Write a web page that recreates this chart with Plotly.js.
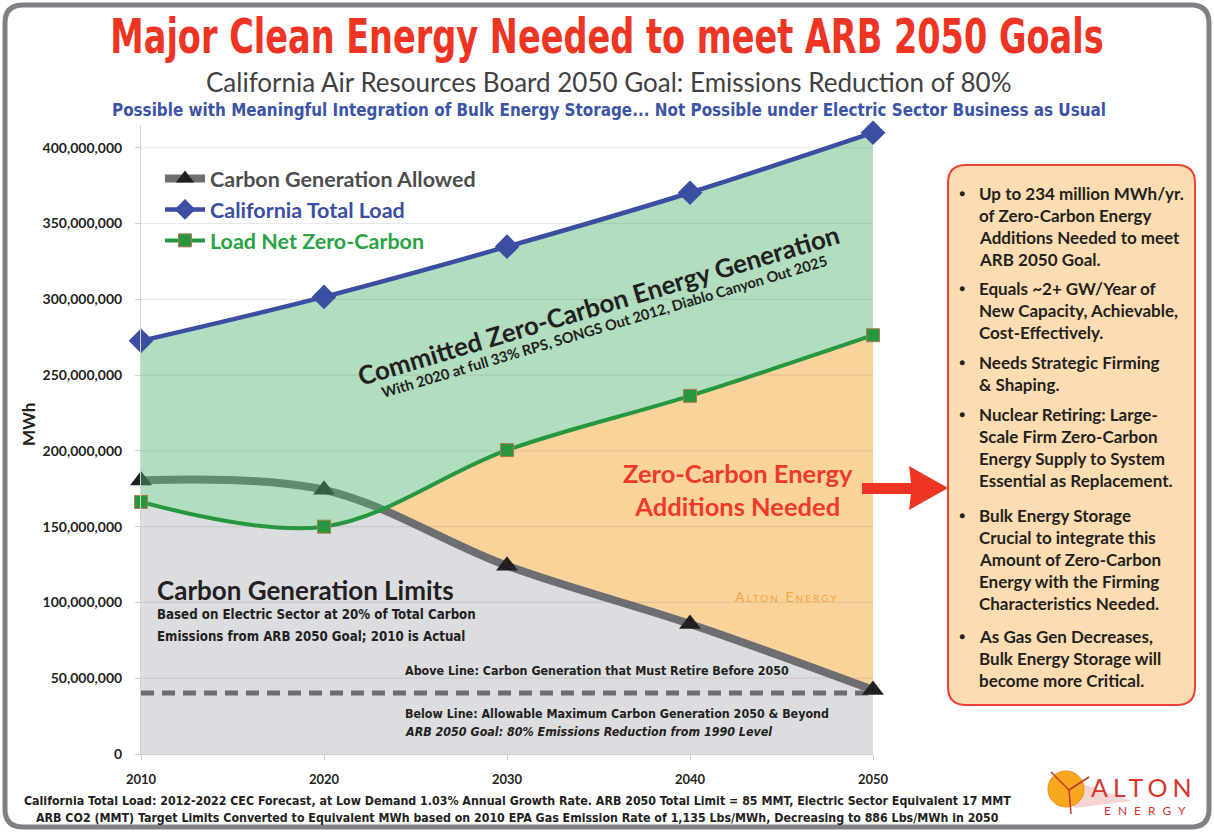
<!DOCTYPE html>
<html><head><meta charset="utf-8">
<script src="https://cdn.plot.ly/plotly-3.0.1.min.js"></script>
<style>
html,body{margin:0;padding:0;background:#fff;} #chart{width:1214px;height:832px;}
.gtitle{transform-box:fill-box;transform-origin:center;transform:scaleY(1.28);}
</style>
</head><body><div id="chart"></div>
<script>
// ---------- DATA ----------
const years = [2010, 2020, 2030, 2040, 2050];
const totalLoad = [272.6e6, 301.6e6, 334.7e6, 370.3e6, 409.9e6];
const netZeroCarbon = [166.3e6, 150.0e6, 200.5e6, 236.3e6, 276.3e6];
const carbonAllowed = [180.5e6, 174.3e6, 124.2e6, 85.8e6, 42.3e6];
const allowableYears = [2010, 2050];
const allowableMax = [40.3e6, 40.3e6];
const yTickVals = [0, 50e6, 100e6, 150e6, 200e6, 250e6, 300e6, 350e6, 400e6];
const yTickText = ['0', '50,000,000', '100,000,000', '150,000,000', '200,000,000', '250,000,000', '300,000,000', '350,000,000', '400,000,000'];
const xTickText = ['2010', '2020', '2030', '2040', '2050'];
const seriesNames = ['Carbon Generation Allowed', 'California Total Load', 'Load Net Zero-Carbon'];
const boxBullets = [
  ['Up to 234 million MWh/yr.', 'of Zero-Carbon Energy', 'Additions Needed to meet', 'ARB 2050 Goal.'],
  ['Equals ~2+ GW/Year of', 'New Capacity, Achievable,', 'Cost-Effectively.'],
  ['Needs Strategic Firming', '&amp; Shaping.'],
  ['Nuclear Retiring: Large-', 'Scale Firm Zero-Carbon', 'Energy Supply to System', 'Essential as Replacement.'],
  ['Bulk Energy Storage', 'Crucial to integrate this', 'Amount of Zero-Carbon', 'Energy with the Firming', 'Characteristics Needed.'],
  ['As Gas Gen Decreases,', 'Bulk Energy Storage will', 'become more Critical.']
];
const footerLines = [
  'California Total Load: 2012-2022 CEC Forecast, at Low Demand 1.03% Annual Growth Rate. ARB 2050 Total Limit = 85 MMT, Electric Sector Equivalent 17 MMT',
  'ARB CO2 (MMT) Target Limits Converted to Equivalent MWh based on 2010 EPA Gas Emission Rate of 1,135 Lbs/MWh, Decreasing to 886 Lbs/MWh in 2050'
];

// ---------- LAYOUT HELPERS ----------
const L = 141, R = 873, T = 125, B = 754;
const px = x => (x - L) / (R - L);
const py = y => (B - y) / (B - T);
const CAL = 'Lato, "Open Sans", sans-serif';
const NAR = '"Liberation Sans Narrow", "DejaVu Sans Condensed", sans-serif';
const DARK = '#231f20';
const C_GRAY_LINE = '#6d6e71', C_BLUE = '#3b4ea2', C_GREEN = '#27973f';

function rr(x0, y0, x1, y1, r) {
  const P = (x, y) => px(x) + ',' + py(y);
  return 'M' + P(x0 + r, y0) + ' L' + P(x1 - r, y0) + ' Q' + P(x1, y0) + ' ' + P(x1, y0 + r) +
    ' L' + P(x1, y1 - r) + ' Q' + P(x1, y1) + ' ' + P(x1 - r, y1) +
    ' L' + P(x0 + r, y1) + ' Q' + P(x0, y1) + ' ' + P(x0, y1 - r) +
    ' L' + P(x0, y0 + r) + ' Q' + P(x0, y0) + ' ' + P(x0 + r, y0) + ' Z';
}
function poly(pts) {
  return 'M' + pts.map(p => px(p[0]) + ',' + py(p[1])).join(' L') + ' Z';
}

const sp = {shape: 'spline', smoothing: 1};
const inv = () => Object.assign({width: 0, color: 'rgba(0,0,0,0)'}, sp);
const traces = [
  {x: years, y: netZeroCarbon, mode: 'lines', line: inv(), fill: 'tozeroy', fillcolor: '#dcdde0', showlegend: false, hoverinfo: 'skip'},
  {x: years, y: carbonAllowed, mode: 'lines', line: inv(), fill: 'tonexty', fillcolor: '#fad39b', showlegend: false, hoverinfo: 'skip'},
  {x: years, y: netZeroCarbon, mode: 'lines', line: inv(), showlegend: false, hoverinfo: 'skip'},
  {x: years, y: totalLoad, mode: 'lines', line: inv(), fill: 'tonexty', fillcolor: '#ffffff', showlegend: false, hoverinfo: 'skip'},
  {x: allowableYears, y: allowableMax, mode: 'lines', line: {color: C_GRAY_LINE, width: 5, dash: '13px,8px'}, showlegend: false, hoverinfo: 'skip'},
  {x: years, y: carbonAllowed, name: '<span style="color:#4d4d4f">' + seriesNames[0] + '</span>', legendrank: 1,
   mode: 'lines+markers', line: Object.assign({width: 8, color: C_GRAY_LINE}, sp),
   marker: {symbol: 'triangle-up', size: 19, color: DARK}, cliponaxis: false, hoverinfo: 'skip'},
  {x: years, y: netZeroCarbon, mode: 'lines', line: inv(), showlegend: false, hoverinfo: 'skip'},
  {x: years, y: totalLoad, mode: 'lines', line: inv(), fill: 'tonexty', fillcolor: 'rgba(80,178,108,0.44)', showlegend: false, hoverinfo: 'skip'},
  {x: years, y: netZeroCarbon, name: '<span style="color:#2aa344">' + seriesNames[2] + '</span>', legendrank: 3,
   mode: 'lines+markers', line: Object.assign({width: 4, color: C_GREEN}, sp),
   marker: {symbol: 'square', size: 13, color: '#27973f', line: {color: '#b07a4a', width: 1}}, cliponaxis: false, hoverinfo: 'skip'},
  {x: years, y: totalLoad, name: '<span style="color:#3b4ea2">' + seriesNames[1] + '</span>', legendrank: 2,
   mode: 'lines+markers', line: Object.assign({width: 4.5, color: C_BLUE}, sp),
   marker: {symbol: 'diamond', size: 19, color: C_BLUE}, cliponaxis: false, hoverinfo: 'skip'}
];

const shapes = [];
shapes.push({type: 'path', xref: 'paper', yref: 'paper', path: rr(5, 5, 1209, 827, 18),
  line: {color: '#7f8084', width: 5}, fillcolor: 'rgba(0,0,0,0)', layer: 'below'});
yTickVals.slice(1).forEach(v => shapes.push({type: 'line', xref: 'paper', yref: 'y', x0: 0, x1: 1, y0: v, y1: v,
  line: {color: 'rgba(110,110,110,0.16)', width: 1.2}, layer: 'above'}));
shapes.push({type: 'path', xref: 'paper', yref: 'paper', path: rr(948, 165, 1195, 705, 18),
  line: {color: '#ee4136', width: 2}, fillcolor: '#fcdcb0'});
shapes.push({type: 'path', xref: 'paper', yref: 'paper',
  path: poly([[862, 483], [911, 483], [909, 466], [948, 488], [909, 510], [911, 494], [862, 494]]),
  line: {width: 0}, fillcolor: '#ee3524'});
// logo graphics
shapes.push({type: 'path', xref: 'paper', yref: 'paper', path: poly([[1074, 781], [1132, 801], [1074, 808]]),
  line: {width: 0}, fillcolor: 'rgba(210,60,60,0.22)'});
shapes.push({type: 'circle', xref: 'paper', yref: 'paper', x0: px(1048), x1: px(1084), y0: py(771), y1: py(807),
  line: {color: '#ec8a12', width: 1}, fillcolor: '#f7a81e'});
shapes.push({type: 'path', xref: 'paper', yref: 'paper',
  path: 'M' + px(1069) + ',' + py(790) + ' L' + px(1051) + ',' + py(772) + ' M' + px(1069) + ',' + py(790) + ' L' + px(1089) + ',' + py(777) +
    ' M' + px(1069) + ',' + py(790) + ' L' + px(1071) + ',' + py(814),
  line: {color: '#c7342c', width: 1.5}});

const ann = [];
function A(o) { ann.push(Object.assign({xref: 'paper', yref: 'paper', showarrow: false, xanchor: 'center', yanchor: 'middle'}, o)); }
A({x: px(609), y: py(82), text: 'California Air Resources Board 2050 Goal: Emissions Reduction of 80%',
  font: {family: CAL, size: 26, color: '#414042'}});
A({x: px(609), y: py(110), text: 'Possible with Meaningful Integration of Bulk Energy Storage... Not Possible under Electric Sector Business as Usual',
  font: {family: NAR, size: 16.9, color: '#3b54a5', weight: 'bold'}});
A({x: px(28), y: py(425), text: 'MWh', textangle: -90, font: {family: CAL, size: 17, color: DARK, weight: 'bold'}});
A({x: px(598), y: py(305), text: 'Committed Zero-Carbon Energy Generation', textangle: -16.6,
  font: {family: CAL, size: 25.8, color: DARK, weight: 'bold'}});
A({x: px(604), y: py(326), text: 'With 2020 at full 33% RPS, SONGS Out 2012, Diablo Canyon Out 2025', textangle: -16.6,
  font: {family: CAL, size: 14.6, color: DARK, weight: 'bold'}});
A({x: px(738), y: py(489), text: 'Zero-Carbon Energy<br>Additions Needed',
  font: {family: CAL, size: 25.5, color: '#ee3a2a', weight: 'bold'}});
A({x: px(155), y: py(590), xanchor: 'left', text: 'Carbon Generation Limits', font: {family: CAL, size: 26, color: DARK, weight: 'bold'}});
A({x: px(155), y: py(614), xanchor: 'left', text: 'Based on Electric Sector at 20% of Total Carbon', font: {family: NAR, size: 13.2, color: DARK, weight: 'bold'}});
A({x: px(155), y: py(636), xanchor: 'left', text: 'Emissions from ARB 2050 Goal; 2010 is Actual', font: {family: NAR, size: 13.2, color: DARK, weight: 'bold'}});
A({x: px(403), y: py(670), xanchor: 'left', text: 'Above Line: Carbon Generation that Must Retire Before 2050', font: {family: NAR, size: 12.4, color: DARK, weight: 'bold'}});
A({x: px(403), y: py(713), xanchor: 'left', text: 'Below Line: Allowable Maximum Carbon Generation 2050 &amp; Beyond', font: {family: NAR, size: 12.4, color: DARK, weight: 'bold'}});
A({x: px(403), y: py(731), xanchor: 'left', text: '<i>ARB 2050 Goal: 80% Emissions Reduction from 1990 Level</i>', font: {family: NAR, size: 12.4, color: DARK, weight: 'bold'}});
A({x: px(787), y: py(596), text: '<span style="letter-spacing:2px">Alton Energy</span>', font: {family: CAL, size: 14, color: '#f3a43a', variant: 'small-caps'}});
footerLines.forEach((t, i) => A({x: px(517), y: py(801 + i * 17), text: t, font: {family: NAR, size: 12.3, color: DARK, weight: 'bold'}}));
A({x: px(1143), y: py(787), text: '<span style="letter-spacing:5px">ALTON</span>', font: {family: CAL, size: 25, color: '#d5352c'}});
A({x: px(1148), y: py(810), text: '<span style="letter-spacing:7px">ENERGY</span>', font: {family: CAL, size: 12, color: '#d5352c'}});
const groupTops = [193, 288, 362, 414, 515, 636];
boxBullets.forEach((lines, g) => {
  A({x: px(962), y: py(groupTops[g]), text: '●', font: {family: CAL, size: 10, color: DARK}});
  lines.forEach((t, i) => A({x: px(977), y: py(groupTops[g] + i * 22), xanchor: 'left', text: t,
    font: {family: CAL, size: 17, color: DARK, weight: 'bold'}}));
});

const layout = {
  width: 1214, height: 832,
  margin: {l: L, r: 1214 - R, t: T, b: 832 - B, pad: 0},
  paper_bgcolor: '#ffffff', plot_bgcolor: 'rgba(0,0,0,0)',
  title: {text: 'Major Clean Energy Needed to meet ARB 2050 Goals', x: 0.5, xref: 'container', xanchor: 'center',
    y: 1 - 36 / 832, yref: 'container', yanchor: 'middle',
    font: {family: NAR, size: 37.3, color: '#ee3524', weight: 'bold'}},
  xaxis: {range: [2010, 2050], tickvals: years, ticktext: xTickText, showgrid: false, zeroline: false,
    showline: true, linecolor: '#cfcfcf', ticks: 'outside', ticklen: 5, tickcolor: '#cfcfcf',
    ticklabelstandoff: 8, tickfont: {family: CAL, size: 13, color: DARK, weight: 'bold'}, fixedrange: true},
  yaxis: {range: [0, 4.15e8], tickvals: yTickVals, ticktext: yTickText, showgrid: false, zeroline: false,
    showline: true, linecolor: '#d4d4d4', ticks: 'outside', ticklen: 5, tickcolor: '#cfcfcf',
    ticklabelstandoff: 10, tickfont: {family: CAL, size: 14, color: DARK, weight: 'bold'}, fixedrange: true},
  legend: {x: px(160), y: py(158), xanchor: 'left', yanchor: 'top', bgcolor: 'rgba(0,0,0,0)',
    font: {family: CAL, size: 21.5, color: '#4d4d4f', weight: 'bold'}, traceorder: 'normal', itemwidth: 40},
  showlegend: true,
  shapes: shapes,
  annotations: ann
};
Plotly.newPlot('chart', traces, layout, {displayModeBar: false, staticPlot: true});
</script></body></html>
